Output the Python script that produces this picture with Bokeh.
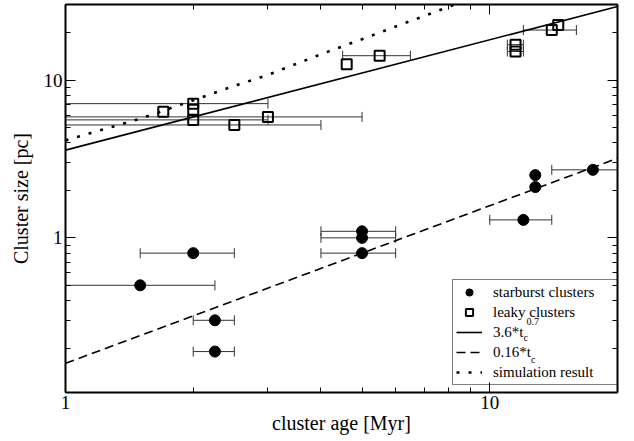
from bokeh.plotting import figure
from bokeh.models import (ColumnDataSource, Whisker, TeeHead, LogAxis, FixedTicker,
                          Legend, LegendItem, Label)
from bokeh.embed import file_html
from bokeh.resources import INLINE

# ---- data ----
# starburst clusters: age [Myr], size [pc], age error [Myr]
sb_age = [1.5, 2.0, 2.25, 2.25, 5.0, 5.0, 5.0, 12.0, 12.8, 12.8, 17.5]
sb_size = [0.5, 0.8, 0.3, 0.19, 1.1, 1.0, 0.8, 1.3, 2.5, 2.1, 2.7]
sb_age_err = [0.75, 0.5, 0.25, 0.25, 1.0, 1.0, 1.0, 2.0, 0.0, 0.0, 3.5]

# leaky clusters
lk_age = [1.7, 2.0, 2.0, 2.0, 2.5, 3.0, 4.6, 5.5, 11.5, 11.5, 14.0, 14.5]
lk_size = [6.3, 7.1, 6.5, 5.6, 5.2, 5.85, 12.6, 14.3, 16.8, 15.2, 20.8, 22.4]
lk_age_err = [0.0, 1.0, 0.0, 1.0, 1.5, 2.0, 0.0, 1.0, 0.5, 0.5, 2.0, 0.0]

# fit relations (end points)
fit_age = [1.0, 20.0]
fit_solid = [3.6, 29.3]    # 3.6*t^0.7
fit_dashed = [0.16, 3.2]   # 0.16*t

# simulation result
sim_age = [1.0, 1.5, 2.0, 2.5, 3.0, 4.0, 5.0, 6.0, 7.0, 8.0, 8.5]
sim_size = [4.15, 5.7, 7.45, 9.2, 10.8, 14.6, 18.2, 21.9, 25.5, 29.2, 31.0]

# ticks
x_tick_vals = [1, 10]
x_tick_labels = ["1", "10"]
x_minor = [2, 3, 4, 5, 6, 7, 8, 9, 20]
y_tick_vals = [1, 10]
y_tick_labels = ["1", "10"]
y_minor = [0.2, 0.3, 0.4, 0.5, 0.6, 0.7, 0.8, 0.9, 2, 3, 4, 5, 6, 7, 8, 9, 20, 30]

FONT = "Liberation Serif"
ERR = "#333333"

p = figure(width=634, height=441, x_axis_type="log", y_axis_type="log",
           x_range=(1, 20), y_range=(0.1045, 30.2),
           output_backend="svg", toolbar_location=None,
           min_border_left=65, min_border_right=17, min_border_top=4,
           min_border_bottom=49)
p.grid.visible = False
p.outline_line_color = "black"
p.outline_line_width = 1
p.background_fill_color = "white"


def style_axis(ax, ticks, minor, labels, show_labels):
    ax.ticker = FixedTicker(ticks=ticks, minor_ticks=minor)
    ax.major_tick_in = 10
    ax.major_tick_out = 0
    ax.minor_tick_in = 5
    ax.minor_tick_out = 0
    ax.axis_line_width = 2
    ax.axis_line_color = "black"
    ax.major_tick_line_width = 1
    ax.minor_tick_line_width = 1
    if show_labels:
        ax.major_label_overrides = {t: l for t, l in zip(ticks, labels)}
        ax.major_label_text_font = FONT
        ax.major_label_text_font_size = "19px"
        ax.major_label_text_color = "black"
        ax.major_label_standoff = 3
        ax.axis_label_text_font = FONT
        ax.axis_label_text_font_size = "20px"
        ax.axis_label_text_font_style = "normal"
        ax.axis_label_text_color = "black"
        ax.axis_label_standoff = 0
    else:
        ax.major_label_text_font_size = "0px"
        ax.major_label_standoff = 0
        ax.major_label_overrides = {t: "" for t in ticks}


style_axis(p.xaxis[0], x_tick_vals, x_minor, x_tick_labels, True)
style_axis(p.yaxis[0], y_tick_vals, y_minor, y_tick_labels, True)
p.xaxis[0].axis_label = "cluster age [Myr]"
p.yaxis[0].axis_label = "Cluster size [pc]"
p.yaxis[0].axis_label_standoff = 9

top_ax = LogAxis()
style_axis(top_ax, x_tick_vals, x_minor, x_tick_labels, False)
p.add_layout(top_ax, "above")
right_ax = LogAxis()
style_axis(right_ax, y_tick_vals, y_minor, y_tick_labels, False)
p.add_layout(right_ax, "right")


def err_source(ages, sizes, errs):
    d = dict(base=[], lower=[], upper=[])
    for a, s, e in zip(ages, sizes, errs):
        if e > 0:
            d["base"].append(s)
            d["lower"].append(a - e)
            d["upper"].append(a + e)
    return ColumnDataSource(d)


for src in (err_source(sb_age, sb_size, sb_age_err), err_source(lk_age, lk_size, lk_age_err)):
    w = Whisker(source=src, base="base", lower="lower", upper="upper", dimension="width",
                line_color=ERR, line_width=1, level="underlay",
                upper_head=TeeHead(size=10, line_color=ERR, line_width=1),
                lower_head=TeeHead(size=10, line_color=ERR, line_width=1))
    p.add_layout(w)

r_solid = p.line(fit_age, fit_solid, line_color="black", line_width=1.6)
r_dash = p.line(fit_age, fit_dashed, line_color="black", line_width=1.6, line_dash="9 5")
r_sim = p.line(sim_age, sim_size, line_color="black", line_width=2.6, line_dash="3 9")
r_sb = p.scatter(sb_age, sb_size, marker="circle", size=11, fill_color="black", line_color="black")
r_lk = p.scatter(lk_age, lk_size, marker="square", size=10, fill_color=None,
                 line_color="black", line_width=2)

# sub- and superscripts of the legend labels (frame-relative screen units)
for txt, x, y in [("c", 458.0, 55.0), ("0.7", 461.0, 71.0), ("c", 465.5, 33.4)]:
    p.add_layout(Label(x=x, y=y, x_units="screen", y_units="screen", text=txt,
                       text_font=FONT, text_font_size="10px", text_color="black",
                       text_baseline="middle", text_align="left", level="overlay"))

legend = Legend(items=[
    LegendItem(label="starburst clusters", renderers=[r_sb]),
    LegendItem(label="leaky clusters", renderers=[r_lk]),
    LegendItem(label="3.6*t", renderers=[r_solid]),
    LegendItem(label="0.16*t", renderers=[r_dash]),
    LegendItem(label="simulation result", renderers=[r_sim]),
], location=(387, 7), padding=3, spacing=2, label_height=18, glyph_height=18,
    glyph_width=26, label_standoff=11, label_width=122, margin=0,
    label_text_font=FONT, label_text_font_size="15px", label_text_color="black",
    border_line_color="black", border_line_width=1, background_fill_color="white",
    background_fill_alpha=0.0)
p.add_layout(legend)

open("out.html", "w").write(file_html(p, INLINE))
